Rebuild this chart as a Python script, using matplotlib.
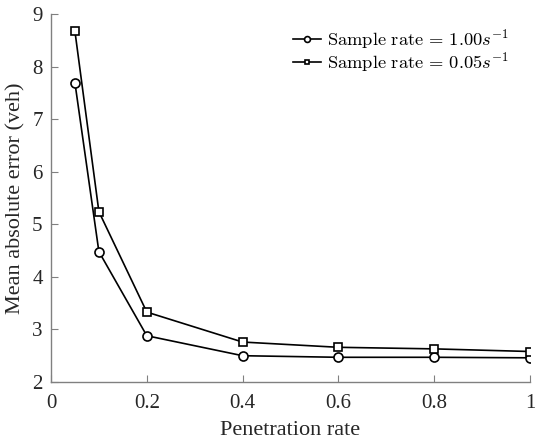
import matplotlib
matplotlib.use('Agg')
import matplotlib.pyplot as plt

# penetration rate vs mean absolute error
penetration = [0.05, 0.1, 0.2, 0.4, 0.6, 0.8, 1.0]
mae_fast = [7.69, 4.48, 2.88, 2.50, 2.47, 2.47, 2.46]
mae_slow = [8.67, 5.24, 3.33, 2.76, 2.66, 2.63, 2.58]
labels = [r'$\mathrm{Sample\ rate}\,=\,1.00s^{-1}$', r'$\mathrm{Sample\ rate}\,=\,0.05s^{-1}$']

plt.rcParams['font.family'] = 'Liberation Serif'
plt.rcParams['mathtext.fontset'] = 'cm'

fig = plt.figure(figsize=(5.35, 4.43), dpi=100)
ax = fig.add_axes([0.0953, 0.1377, 0.8954, 0.8307])

ax.plot(penetration, mae_fast, '-o', color='black', lw=1.2, ms=6.5,
        mfc='white', mec='black', mew=1.2, label=labels[0])
ax.plot(penetration, mae_slow, '-s', color='black', lw=1.2, ms=5.3,
        mfc='white', mec='black', mew=1.2, label=labels[1])

ax.set_xlim(0, 1)
ax.set_ylim(2, 9)
ax.set_xticks([0, 0.2, 0.4, 0.6, 0.8, 1])
ax.set_xticklabels(['0', '0.2', '0.4', '0.6', '0.8', '1'])
ax.set_yticks(range(2, 10))

for side in ['top', 'right']:
    ax.spines[side].set_visible(False)
for side in ['left', 'bottom']:
    ax.spines[side].set_color('#808080')
    ax.spines[side].set_linewidth(1.0)
ax.tick_params(direction='in', colors='#808080', labelcolor='#262626',
               labelsize=15, length=5)
ax.tick_params(axis='x', pad=9)
ax.tick_params(axis='y', pad=6)

ax.set_xlabel('Penetration rate', fontsize=16, color='#262626', labelpad=5.5)
ax.set_ylabel('Mean absolute error (veh)', fontsize=16, color='#262626', labelpad=5)

ax.legend(loc='upper right', frameon=False, fontsize=13.3, handlelength=1.55,
          handletextpad=0.3, markerscale=0.65, labelspacing=0.0,
          bbox_to_anchor=(0.99, 1.01))

fig.savefig('out.png', dpi=100)
